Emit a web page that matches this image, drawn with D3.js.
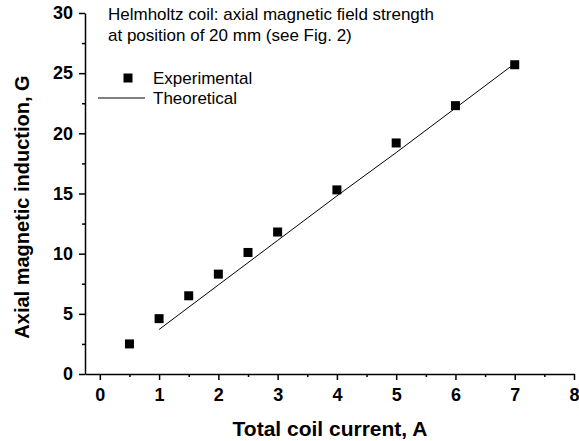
<!DOCTYPE html>
<html>
<head>
<meta charset="utf-8">
<script src="https://cdn.jsdelivr.net/npm/d3@7"></script>
<style>
  body { margin: 0; background: #fff; }
  svg { font-family: "Liberation Sans", Arial, sans-serif; }
</style>
</head>
<body>
<div id="chart"></div>
<script>
// measured values
var currentExp = [0.5, 1, 1.5, 2, 2.5, 3, 4, 5, 6, 7];
var inductionExp = [2.5, 4.6, 6.5, 8.3, 10.1, 11.8, 15.3, 19.2, 22.3, 25.7];
// theory curve
var currentTheo = [1, 2, 3, 4, 5, 6, 7];
var inductionTheo = [3.7, 7.4, 11.1, 14.8, 18.4, 22.1, 25.8];

var xTicks = [0, 1, 2, 3, 4, 5, 6, 7, 8];
var yTicks = [0, 5, 10, 15, 20, 25, 30];

var width = 579, height = 441;
var plotL = 85, plotR = 574, plotT = 13, plotB = 374;

var svg = d3.select("#chart").append("svg")
    .attr("width", width)
    .attr("height", height);

var x = d3.scaleLinear().domain([-0.25, 8]).range([plotL, plotR]);
var y = d3.scaleLinear().domain([0, 30]).range([plotB, plotT]);

// minor ticks
var xMinor = d3.range(0.5, 8, 1);
var yMinor = d3.range(2.5, 30, 5);

svg.append("g")
    .attr("transform", "translate(0," + plotB + ")")
    .call(d3.axisBottom(x).tickValues(xMinor).tickSize(3).tickFormat(""))
    .call(function(g) { g.select(".domain").remove(); });

svg.append("g")
    .attr("transform", "translate(" + plotL + ",0)")
    .call(d3.axisLeft(y).tickValues(yMinor).tickSize(3).tickFormat(""))
    .call(function(g) { g.select(".domain").remove(); });

var xAxis = svg.append("g")
    .attr("transform", "translate(0," + plotB + ")")
    .call(d3.axisBottom(x).tickValues(xTicks).tickSize(6).tickSizeOuter(0).tickPadding(8));

var yAxis = svg.append("g")
    .attr("transform", "translate(" + plotL + ",0)")
    .call(d3.axisLeft(y).tickValues(yTicks).tickSize(6).tickSizeOuter(0).tickPadding(6));

svg.selectAll(".tick line, .domain").attr("stroke", "#000").attr("stroke-width", 1.5);
[xAxis, yAxis].forEach(function(a) {
    a.attr("font-size", null).attr("font-family", null);
    a.selectAll("text")
        .attr("fill", "#000")
        .style("font-size", "18px")
        .style("font-weight", "bold");
});

// theoretical line
var line = d3.line()
    .x(function(d, i) { return x(currentTheo[i]); })
    .y(function(d) { return y(d); });

svg.append("path")
    .datum(inductionTheo)
    .attr("d", line)
    .attr("fill", "none")
    .attr("stroke", "#000")
    .attr("stroke-width", 1);

// experimental squares
var s = 9;
svg.selectAll(".pt")
    .data(inductionExp)
  .enter().append("rect")
    .attr("class", "pt")
    .attr("x", function(d, i) { return x(currentExp[i]) - s / 2; })
    .attr("y", function(d) { return y(d) - s / 2; })
    .attr("width", s)
    .attr("height", s)
    .attr("fill", "#000");

// note
svg.append("text")
    .attr("x", 108).attr("y", 20)
    .style("font-size", "17px")
    .text("Helmholtz coil: axial magnetic field strength");
svg.append("text")
    .attr("x", 108).attr("y", 41)
    .style("font-size", "17px")
    .text("at position of 20 mm (see Fig. 2)");

// legend
svg.append("rect")
    .attr("x", 128 - s / 2).attr("y", 78 - s / 2)
    .attr("width", s).attr("height", s)
    .attr("fill", "#000");
svg.append("text")
    .attr("x", 153).attr("y", 84)
    .style("font-size", "17px")
    .text("Experimental");
svg.append("line")
    .attr("x1", 98).attr("x2", 145)
    .attr("y1", 98).attr("y2", 98)
    .attr("stroke", "#000").attr("stroke-width", 1);
svg.append("text")
    .attr("x", 153).attr("y", 104)
    .style("font-size", "17px")
    .text("Theoretical");

// axis titles
svg.append("text")
    .attr("x", 330).attr("y", 436)
    .attr("text-anchor", "middle")
    .style("font-size", "21px")
    .style("font-weight", "bold")
    .text("Total coil current, A");

svg.append("text")
    .attr("transform", "translate(29,207) rotate(-90)")
    .attr("text-anchor", "middle")
    .style("font-size", "20px")
    .style("font-weight", "bold")
    .text("Axial magnetic induction, G");
</script>
</body>
</html>
